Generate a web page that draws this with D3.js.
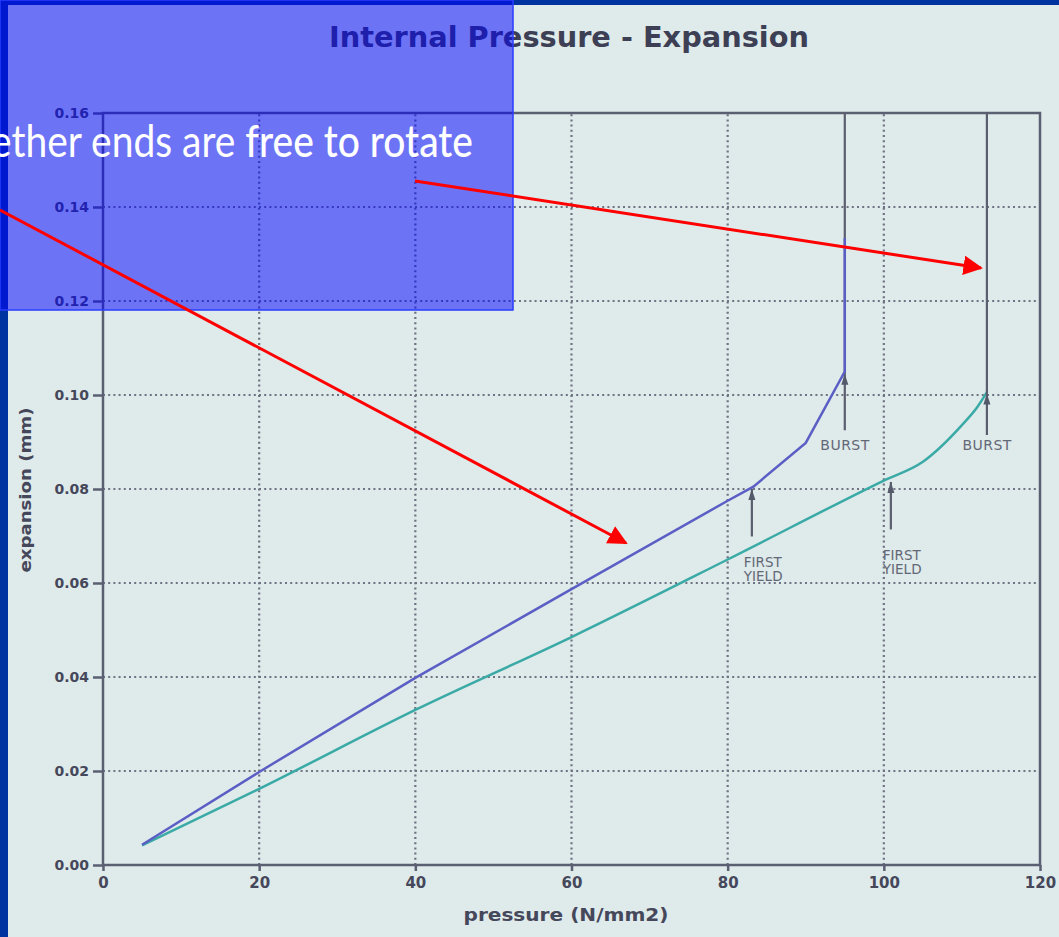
<!DOCTYPE html>
<html lang="en">
<head>
<meta charset="UTF-8">
<title>Internal Pressure - Expansion</title>
<style>
  html, body { margin: 0; padding: 0; overflow: hidden; background: #0033a0; }
  text { font-family: 'DejaVu Sans', sans-serif; }
</style>
</head>
<body>
<script src="https://cdn.jsdelivr.net/npm/d3@7"></script>
<script>
const width = 1059
const height = 937

// series (pressure N/mm2 -> expansion mm)
const bluePressure = [5, 20, 40, 60, 80, 83.3, 90, 95, 95]
const blueExpansion = [0.0043, 0.0198, 0.0398, 0.0587, 0.0775, 0.0805, 0.0898, 0.105, 0.1334]
const tealPressure = [5, 20, 40, 60, 80, 100, 105, 110, 112, 113.2]
const tealExpansion = [0.0042, 0.0162, 0.033, 0.0485, 0.065, 0.0818, 0.0858, 0.0936, 0.0975, 0.1006]

const xTicks = [0, 20, 40, 60, 80, 100, 120]
const yTicks = [0, 0.02, 0.04, 0.06, 0.08, 0.10, 0.12, 0.14, 0.16]

// marker arrows: pressure, arrow tail, arrow tip
const burstMarks = [
  { p: 95, tail: 0.0925, tip: 0.1045, label: 'BURST' },
  { p: 113.2, tail: 0.0915, tip: 0.1003, label: 'BURST' }
]
const yieldMarks = [
  { p: 83.1, tail: 0.0699, tip: 0.0800 },
  { p: 100.9, tail: 0.0714, tip: 0.0815 }
]

const svg = d3.select('body').append('svg')
  .attr('width', width)
  .attr('height', height)

// paper
svg.append('rect')
  .attr('x', 8).attr('y', 5)
  .attr('width', width - 8).attr('height', height - 5)
  .attr('fill', '#dfeaea')

const x = d3.scaleLinear().domain([0, 120]).range([103, 1040])
const y = d3.scaleLinear().domain([0, 0.16]).range([865, 113])

const ink = '#5b5f72'

// dotted grid
svg.append('g').selectAll('line')
  .data(xTicks.filter(d => d > 0 && d < 120))
  .join('line')
  .attr('x1', d => x(d)).attr('x2', d => x(d))
  .attr('y1', y(0)).attr('y2', y(0.16))
  .attr('stroke', '#6f7282').attr('stroke-width', 2.2)
  .attr('stroke-dasharray', '2,3.2')

svg.append('g').selectAll('line')
  .data(yTicks.filter(d => d > 0 && d < 0.16))
  .join('line')
  .attr('x1', x(0)).attr('x2', x(120))
  .attr('y1', d => y(d)).attr('y2', d => y(d))
  .attr('stroke', '#6f7282').attr('stroke-width', 2.2)
  .attr('stroke-dasharray', '2,3.2')

// frame
svg.append('rect')
  .attr('x', x(0)).attr('y', y(0.16))
  .attr('width', x(120) - x(0)).attr('height', y(0) - y(0.16))
  .attr('fill', 'none').attr('stroke', ink).attr('stroke-width', 2.5)

// axes
const yAxis = svg.append('g')
  .attr('transform', `translate(${x(0)},0)`)
  .call(d3.axisLeft(y).tickValues(yTicks).tickFormat(d3.format('.2f')).tickSize(10).tickPadding(4))
const xAxis = svg.append('g')
  .attr('transform', `translate(0,${y(0)})`)
  .call(d3.axisBottom(x).tickValues(xTicks).tickSize(6).tickPadding(6))

for (const ax of [xAxis, yAxis]) {
  ax.select('.domain').remove()
  ax.selectAll('line').attr('stroke', ink).attr('stroke-width', 2.5)
  ax.selectAll('text')
    .attr('fill', '#45475a')
    .style('font-family', "'DejaVu Sans', sans-serif")
    .style('font-weight', 'bold')
}
yAxis.selectAll('text').style('font-size', '14px')
xAxis.selectAll('text').style('font-size', '15px')

// curves
const line = d3.line().x(d => x(d[0])).y(d => y(d[1]))

svg.append('path')
  .datum(d3.zip(tealPressure, tealExpansion))
  .attr('d', line.curve(d3.curveMonotoneX))
  .attr('fill', 'none').attr('stroke', '#3aaaa6').attr('stroke-width', 2.5)

// burst lines from the top of the frame
svg.append('g').selectAll('line')
  .data(burstMarks)
  .join('line')
  .attr('x1', d => x(d.p)).attr('x2', d => x(d.p))
  .attr('y1', y(0.16)).attr('y2', d => y(d.tail))
  .attr('stroke', '#5a5e6e').attr('stroke-width', 2.2)

svg.append('path')
  .datum(d3.zip(bluePressure, blueExpansion))
  .attr('d', line.curve(d3.curveLinear))
  .attr('fill', 'none').attr('stroke', '#5b5ec4').attr('stroke-width', 2.5)

// small up arrows
const marks = burstMarks.concat(yieldMarks)
svg.append('g').selectAll('line')
  .data(yieldMarks)
  .join('line')
  .attr('x1', d => x(d.p)).attr('x2', d => x(d.p))
  .attr('y1', d => y(d.tail)).attr('y2', d => y(d.tip))
  .attr('stroke', '#5a5e6e').attr('stroke-width', 2.2)

svg.append('g').selectAll('path')
  .data(marks)
  .join('path')
  .attr('d', d => {
    const px = x(d.p), py = y(d.tip)
    return `M${px},${py} L${px - 3.5},${py + 11} L${px + 3.5},${py + 11} Z`
  })
  .attr('fill', '#555a6a')

svg.append('g').selectAll('text')
  .data(burstMarks)
  .join('text')
  .attr('x', d => x(d.p))
  .attr('y', 450)
  .attr('text-anchor', 'middle')
  .attr('font-size', 14)
  .attr('textLength', 49)
  .attr('fill', '#636776')
  .text(d => d.label)

const yieldText = svg.append('g').selectAll('text')
  .data(yieldMarks)
  .join('text')
  .attr('font-size', 13.5)
  .attr('fill', '#636776')
yieldText.append('tspan')
  .attr('x', d => x(d.p) - 8)
  .attr('y', d => y(d.tail) + 31)
  .text('FIRST')
yieldText.append('tspan')
  .attr('x', d => x(d.p) - 8)
  .attr('dy', 14)
  .text('YIELD')

// titles
svg.append('text')
  .attr('x', 569).attr('y', 47)
  .attr('text-anchor', 'middle')
  .attr('font-size', 29).attr('font-weight', 'bold')
  .attr('textLength', 480).attr('lengthAdjust', 'spacingAndGlyphs')
  .attr('fill', '#3d3f55')
  .text('Internal Pressure - Expansion')

svg.append('text')
  .attr('x', 566).attr('y', 921)
  .attr('text-anchor', 'middle')
  .attr('font-size', 18).attr('font-weight', 'bold')
  .attr('textLength', 205).attr('lengthAdjust', 'spacingAndGlyphs')
  .attr('fill', '#45475a')
  .text('pressure (N/mm2)')

svg.append('text')
  .attr('transform', 'translate(31,490) rotate(-90)')
  .attr('text-anchor', 'middle')
  .attr('font-size', 16).attr('font-weight', 'bold')
  .attr('textLength', 165).attr('lengthAdjust', 'spacingAndGlyphs')
  .attr('fill', '#45475a')
  .text('expansion (mm)')

// slide overlay
svg.append('rect')
  .attr('x', 0).attr('y', 0)
  .attr('width', 513).attr('height', 310)
  .attr('fill', 'rgba(0, 0, 255, 0.51)')
  .attr('stroke', '#2a3cff').attr('stroke-width', 1.5)

const note = svg.append('text')
  .attr('x', -9).attr('y', 157)
  .attr('fill', 'white')
  .attr('font-size', 44)
  .attr('textLength', 482).attr('lengthAdjust', 'spacingAndGlyphs')
  .style('font-family', "Lato, 'Open Sans', sans-serif")
note.append('tspan').attr('font-weight', 400).text('ether ends are ')
note.append('tspan').attr('font-weight', 500).text('free to rotate')

// red pointers
const pointers = [
  { from: [0, 210], to: [626, 543] },
  { from: [415, 181], to: [981, 268] }
]
svg.append('defs').append('marker')
  .attr('id', 'head')
  .attr('viewBox', '0 0 10 10')
  .attr('refX', 9).attr('refY', 5)
  .attr('markerWidth', 6.5).attr('markerHeight', 6.5)
  .attr('markerUnits', 'strokeWidth')
  .attr('orient', 'auto')
  .append('path').attr('d', 'M0,0 L10,5 L0,10 Z').attr('fill', '#ff0000')

svg.append('g').selectAll('line')
  .data(pointers)
  .join('line')
  .attr('x1', d => d.from[0]).attr('y1', d => d.from[1])
  .attr('x2', d => d.to[0]).attr('y2', d => d.to[1])
  .attr('stroke', '#ff0000').attr('stroke-width', 3)
  .attr('marker-end', 'url(#head)')
</script>
</body>
</html>
